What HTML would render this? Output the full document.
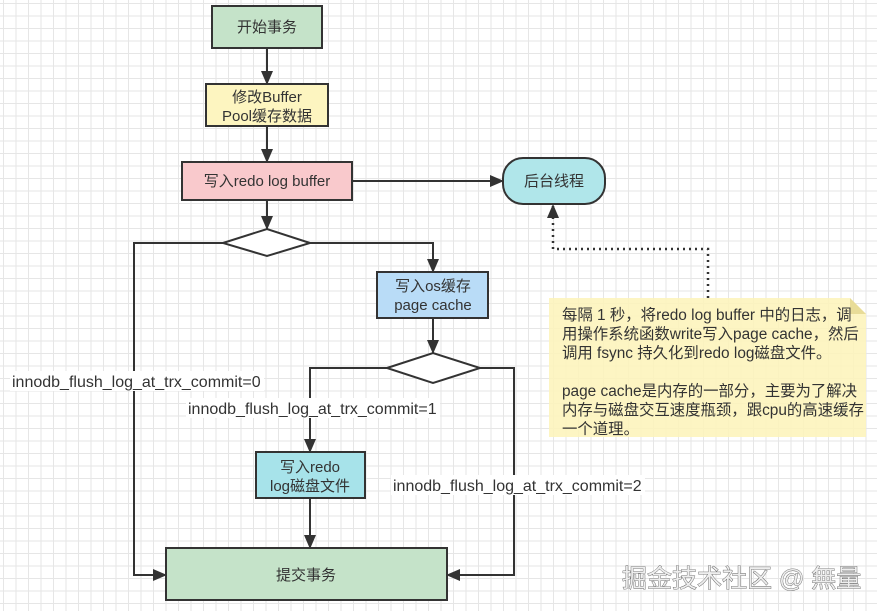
<!DOCTYPE html>
<html><head><meta charset="utf-8">
<style>
html,body{margin:0;padding:0;}
body{width:877px;height:611px;overflow:hidden;background:#fff;
background-image:linear-gradient(#e6e6e6 1px,transparent 1px),linear-gradient(90deg,#e6e6e6 1px,transparent 1px);
background-size:12.5px 12.5px;background-position:3px 3px;}
svg{position:absolute;left:0;top:0;}
text{font-family:"Liberation Sans","Noto Sans CJK SC",sans-serif;font-size:15px;fill:#333;}
</style></head><body>
<svg width="877" height="611" viewBox="0 0 877 611">
<defs>
<marker id="b" viewBox="0 0 14 14" markerWidth="14" markerHeight="14" refX="13" refY="7" orient="auto" markerUnits="userSpaceOnUse">
<path d="M0,1 L14,7 L0,13 Z" fill="#333"/></marker>
</defs>
<g stroke="#333" stroke-width="2" fill="none">
<line x1="267" y1="48" x2="267" y2="84" marker-end="url(#b)"/>
<line x1="267" y1="126" x2="267" y2="162" marker-end="url(#b)"/>
<line x1="267" y1="200" x2="267" y2="229" marker-end="url(#b)"/>
<line x1="352" y1="181" x2="503" y2="181" marker-end="url(#b)"/>
<polyline points="223,243 134,243 134,575 166,575" marker-end="url(#b)"/>
<polyline points="310,243 433,243 433,272" marker-end="url(#b)"/>
<line x1="433" y1="318" x2="433" y2="353" marker-end="url(#b)"/>
<polyline points="387,368 310,368 310,452" marker-end="url(#b)"/>
<polyline points="480,368 514,368 514,575 447,575" marker-end="url(#b)"/>
<line x1="310" y1="498" x2="310" y2="548" marker-end="url(#b)"/>
<polyline points="708,298 708,249 553,249 553,206" stroke-dasharray="2,4" stroke-width="2.5"/>
</g>
<path d="M553,204 L547,218 L559,218 Z" fill="#333"/>
<g stroke="#333" stroke-width="2">
<rect x="212" y="6" width="110" height="42" fill="#c5e3c9"/>
<rect x="206" y="84" width="122" height="42" fill="#fdf5c0"/>
<rect x="182" y="162" width="170" height="38" fill="#f9c9cc"/>
<polygon points="223,243 267,229 310,243 267,256" fill="#fff"/>
<rect x="503" y="158" width="102" height="46" rx="20" fill="#b0e6ea"/>
<rect x="377" y="272" width="111" height="46" fill="#b9dcf7"/>
<polygon points="387,368 433,353 480,368 433,383" fill="#fff"/>
<rect x="256" y="452" width="109" height="46" fill="#a7e3ea"/>
<rect x="166" y="548" width="281" height="52" fill="#c5e3c9"/>
</g>
<path d="M549,298 L850,298 L866,314 L866,437 L549,437 Z" fill="#fdf3b8" opacity="0.85"/>
<path d="M850,298 L866,314 L850,314 Z" fill="#e8dc98"/>
<g text-anchor="middle">
<text x="267" y="32">开始事务</text>
<text x="267" y="102">修改Buffer</text>
<text x="267" y="121">Pool缓存数据</text>
<text x="267" y="186">写入redo log buffer</text>
<text x="554" y="186">后台线程</text>
<text x="433" y="291">写入os缓存</text>
<text x="433" y="310">page cache</text>
<text x="310" y="472">写入redo</text>
<text x="310" y="491">log磁盘文件</text>
<text x="306" y="580">提交事务</text>
</g>
<g style="font-size:16px">
<rect x="10" y="371" width="254" height="20" fill="#fff"/>
<text x="12" y="387" style="font-size:16px">innodb_flush_log_at_trx_commit=0</text>
<rect x="186" y="398" width="254" height="20" fill="#fff"/>
<text x="188" y="414" style="font-size:16px">innodb_flush_log_at_trx_commit=1</text>
<rect x="391" y="475" width="254" height="20" fill="#fff"/>
<text x="393" y="491" style="font-size:16px">innodb_flush_log_at_trx_commit=2</text>
</g>
<g>
<text x="562" y="320" style="font-size:15.4px">每隔 1 秒，将redo log buffer 中的日志，调</text>
<text x="562" y="339" style="font-size:15.4px">用操作系统函数write写入page cache，然后</text>
<text x="562" y="358" style="font-size:15.4px">调用 fsync 持久化到redo log磁盘文件。</text>
<text x="562" y="396" style="font-size:15.4px">page cache是内存的一部分，主要为了解决</text>
<text x="562" y="415" style="font-size:15.4px">内存与磁盘交互速度瓶颈，跟cpu的高速缓存</text>
<text x="562" y="434" style="font-size:15.4px">一个道理。</text>
</g>
<text x="622" y="587" style="font-size:25px;fill:#eee;stroke:#555;stroke-width:0.8;paint-order:stroke">掘金技术社区 @ 無量</text>
</svg>
</body></html>
